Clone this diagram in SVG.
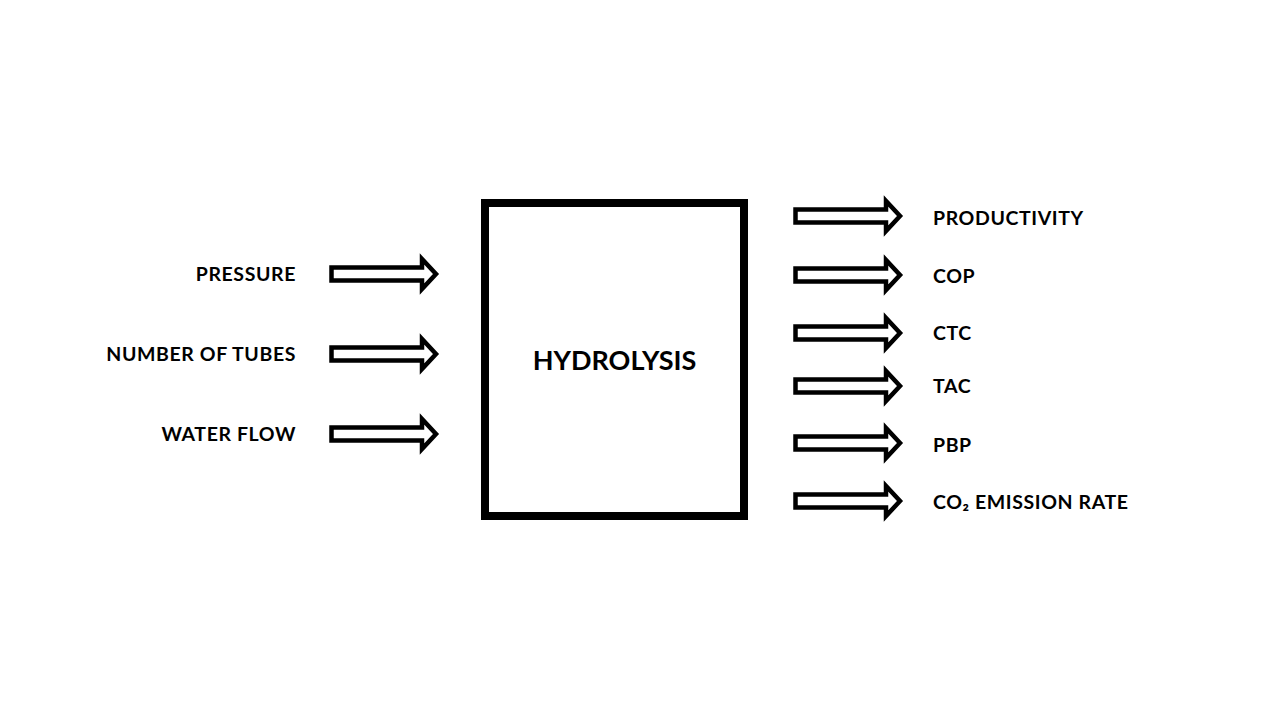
<svg xmlns="http://www.w3.org/2000/svg" xmlns:xlink="http://www.w3.org/1999/xlink" width="1280" height="720" viewBox="0 0 1280 720">
  <style>
    .lbl { font-family: Lato, "Open Sans", "Liberation Sans", sans-serif; font-weight: bold; font-size: 19.5px; letter-spacing: 0.6px; fill: #000; }
    .title { font-family: Lato, "Open Sans", "Liberation Sans", sans-serif; font-weight: bold; font-size: 27px; fill: #000; }
    .arrow { fill: #fff; stroke: #000; stroke-width: 4.5; stroke-miterlimit: 10; }
  </style>
  <defs>
    <path id="blockArrow" class="arrow" d="M0,-6.5 H90.5 V-15 L104.5,0 L90.5,15 V6.5 H0 Z"/>
  </defs>
  <rect width="1280" height="720" fill="#fff"/>

  <g id="hydrolysis">
    <rect x="485" y="203" width="259" height="313" fill="#fff" stroke="#000" stroke-width="8"/>
    <text class="title" x="614.5" y="370" text-anchor="middle">HYDROLYSIS</text>
  </g>

  <g id="connectors">
    <use xlink:href="#blockArrow" transform="translate(331.5,274)"/>
    <use xlink:href="#blockArrow" transform="translate(331.5,354)"/>
    <use xlink:href="#blockArrow" transform="translate(331.5,434)"/>
    <use xlink:href="#blockArrow" transform="translate(795.5,216)"/>
    <use xlink:href="#blockArrow" transform="translate(795.5,275)"/>
    <use xlink:href="#blockArrow" transform="translate(795.5,333)"/>
    <use xlink:href="#blockArrow" transform="translate(795.5,386)"/>
    <use xlink:href="#blockArrow" transform="translate(795.5,443)"/>
    <use xlink:href="#blockArrow" transform="translate(795.5,501)"/>
  </g>

  <g id="in-pressure"><text class="lbl" x="296" y="281" text-anchor="end">PRESSURE</text></g>
  <g id="in-tubes"><text class="lbl" x="296" y="361" text-anchor="end">NUMBER OF TUBES</text></g>
  <g id="in-water"><text class="lbl" x="296" y="441" text-anchor="end">WATER FLOW</text></g>

  <g id="out-productivity"><text class="lbl" x="933" y="225">PRODUCTIVITY</text></g>
  <g id="out-cop"><text class="lbl" x="933" y="283">COP</text></g>
  <g id="out-ctc"><text class="lbl" x="933" y="340">CTC</text></g>
  <g id="out-tac"><text class="lbl" x="933" y="393">TAC</text></g>
  <g id="out-pbp"><text class="lbl" x="933" y="451.5">PBP</text></g>
  <g id="out-co2"><text class="lbl" x="933" y="509">CO₂ EMISSION RATE</text></g>
</svg>
